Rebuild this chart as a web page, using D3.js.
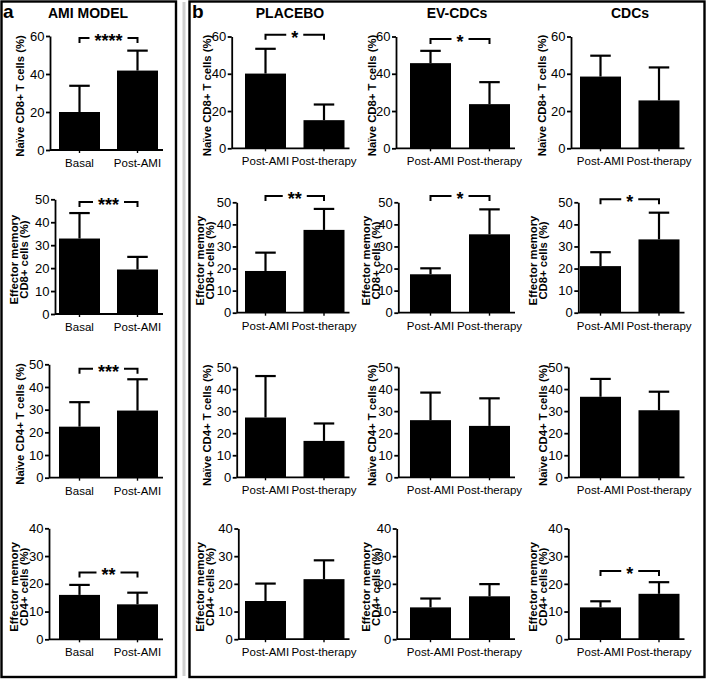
<!DOCTYPE html>
<html><head><meta charset="utf-8">
<script src="https://cdn.jsdelivr.net/npm/d3@7"></script>
<style>body{margin:0;background:#fff} svg{display:block} text{font-family:"Liberation Sans",Arial,Helvetica,sans-serif;fill:#000}</style>
</head><body><svg id="c" width="708" height="680"></svg>
<script>
// ---------- data ----------
const panelTitles = ["AMI MODEL", "PLACEBO", "EV-CDCs", "CDCs"];
const groupsA = ["Basal", "Post-AMI"];
const groupsB = ["Post-AMI", "Post-therapy"];
const yLabels = [["Naïve CD8+ T cells (%)"], ["Effector memory", "CD8+ cells (%)"], ["Naïve CD4+ T cells (%)"], ["Effector memory", "CD4+ cells (%)"]];
const yMax = [60, 50, 50, 40];
const yTicks = [[0, 20, 40, 60], [0, 10, 20, 30, 40, 50], [0, 10, 20, 30, 40, 50], [0, 10, 20, 30, 40]];

const amiMeans     = [[20.0, 41.8], [32.9, 19.4], [22.5, 29.6], [16.0, 12.6]];
const amiSD        = [[13.8, 10.5], [11.1, 5.5], [10.8, 13.8], [3.6, 4.2]];
const placeboMeans = [[40.1, 15.1], [18.9, 37.5], [27.1, 16.5], [13.8, 21.7]];
const placeboSD    = [[13.3, 8.4], [8.3, 9.5], [18.8, 7.9], [6.3, 6.8]];
const evMeans      = [[45.7, 23.7], [17.4, 35.5], [25.9, 23.3], [11.5, 15.5]];
const evSD         = [[6.6, 11.8], [2.7, 11.3], [12.5, 12.5], [3.2, 4.4]];
const cdcMeans     = [[38.5, 25.7], [21.1, 33.2], [36.5, 30.4], [11.5, 16.4]];
const cdcSD        = [[11.2, 17.7], [6.3, 12.1], [8.1, 8.4], [2.2, 4.2]];

// significance: [label, bracket level in axis units]
const amiSig     = [["****", 59], ["***", 48.8], ["***", 48], ["**", 24.1]];
const placeboSig = [["*", 61], ["**", 52.9], null, null];
const evSig      = [["*", 58.6], ["*", 52.9], null, null];
const cdcSig     = [null, ["*", 51.4], null, ["*", 24.6]];

// ---------- layout ----------
const panels = [
  {means: amiMeans, sd: amiSD, sig: amiSig, groups: groupsA},
  {means: placeboMeans, sd: placeboSD, sig: placeboSig, groups: groupsB},
  {means: evMeans, sd: evSD, sig: evSig, groups: groupsB},
  {means: cdcMeans, sd: cdcSD, sig: cdcSig, groups: groupsB}
];
const colLayout = [
  {barStart: 59,  step: 58,   axisX: [50, 55, 49, 49],            labelX: [20, 19, 20, 19],     titleX: 88},
  {barStart: 245, step: 58.5, axisX: [231.7, 236.7, 236.7, 238.3], labelX: [207, 205, 207, 205], titleX: 290},
  {barStart: 410, step: 59,   axisX: [396, 398.3, 398.3, 396.7],  labelX: [372, 371, 372, 371], titleX: 457},
  {barStart: 580, step: 58.5, axisX: [571, 578.3, 568.3, 568.3],  labelX: [542, 538, 543, 538], titleX: 630}
];
const rowA = [[36, 150], [199.3, 314], [364.3, 477.7], [528.3, 639.3]];
const rowB = [[36.5, 148.3], [202.3, 312.7], [367, 477.3], [528.5, 639.2]];
const barW = 41;

const svg = d3.select("#c");

// panel frames
svg.append("rect").attr("x", 1.5).attr("y", 1.5).attr("width", 174.5).attr("height", 675.5)
  .attr("fill", "none").attr("stroke", "#000").attr("stroke-width", 2.4);
svg.append("line").attr("x1", 184).attr("x2", 184).attr("y1", 2).attr("y2", 676)
  .attr("stroke", "#d0d0d0").attr("stroke-width", 3);
svg.append("rect").attr("x", 189.5).attr("y", 1.5).attr("width", 515).attr("height", 675.5)
  .attr("fill", "none").attr("stroke", "#000").attr("stroke-width", 2.4);

// panel letters
svg.append("text").attr("x", 3).attr("y", 17.5).attr("font-size", 19).attr("font-weight", "bold").text("a");
svg.append("text").attr("x", 192).attr("y", 17.5).attr("font-size", 19).attr("font-weight", "bold").text("b");

panels.forEach((p, c) => {
  const L = colLayout[c];
  svg.append("text").attr("x", L.titleX).attr("y", 17.5).attr("text-anchor", "middle")
    .attr("font-size", 14).attr("font-weight", "bold").text(panelTitles[c]);

  for (let r = 0; r < 4; r++) {
    const [yTopPx, y0Px] = (c === 0 ? rowA : rowB)[r];
    const ax = L.axisX[r];
    const y = d3.scaleLinear().domain([0, yMax[r]]).range([y0Px, yTopPx]);
    const x = d3.scaleBand().domain(p.groups)
      .range([L.barStart, L.barStart + L.step + barW])
      .paddingInner((L.step - barW) / L.step).paddingOuter(0);
    const g = svg.append("g");

    // bars
    const rows = p.groups.map((k, i) => ({k, m: p.means[r][i], s: p.sd[r][i]}));
    g.selectAll("rect.bar").data(rows).join("rect")
      .attr("x", d => x(d.k)).attr("width", x.bandwidth())
      .attr("y", d => y(d.m)).attr("height", d => y(0) - y(d.m)).attr("fill", "#000");
    // error bars (upper)
    g.selectAll("line.eb").data(rows).join("line")
      .attr("x1", d => x(d.k) + x.bandwidth() / 2).attr("x2", d => x(d.k) + x.bandwidth() / 2)
      .attr("y1", d => y(d.m)).attr("y2", d => y(d.m + d.s))
      .attr("stroke", "#000").attr("stroke-width", 2.2);
    g.selectAll("line.cap").data(rows).join("line")
      .attr("x1", d => x(d.k) + x.bandwidth() / 4).attr("x2", d => x(d.k) + x.bandwidth() * 3 / 4)
      .attr("y1", d => y(d.m + d.s)).attr("y2", d => y(d.m + d.s))
      .attr("stroke", "#000").attr("stroke-width", 2.2);

    // y axis
    const yAxis = d3.axisLeft(y).tickValues(yTicks[r]).tickSize(4).tickSizeOuter(0).tickPadding(1.5);
    const ya = g.append("g").attr("transform", `translate(${ax},0)`).call(yAxis);
    ya.select(".domain").attr("stroke-width", 1.8);
    ya.selectAll(".tick line").attr("stroke-width", 1.8);
    ya.selectAll("text").attr("font-size", 13).style("font-family", '"Liberation Sans",Arial,sans-serif');

    // x axis
    const xEnd = L.barStart + L.step + barW + 5;
    g.append("line").attr("x1", ax).attr("x2", xEnd).attr("y1", y0Px).attr("y2", y0Px)
      .attr("stroke", "#000").attr("stroke-width", 1.8);
    g.selectAll("line.xt").data(p.groups).join("line")
      .attr("x1", d => x(d) + x.bandwidth() / 2).attr("x2", d => x(d) + x.bandwidth() / 2)
      .attr("y1", y0Px).attr("y2", y0Px + 3).attr("stroke", "#000").attr("stroke-width", 1.4);
    g.selectAll("text.xl").data(p.groups).join("text")
      .attr("x", d => x(d) + x.bandwidth() / 2).attr("y", y0Px + 17)
      .attr("text-anchor", "middle").attr("font-size", 11.5).text(d => d);

    // y label
    const lines = yLabels[r];
    const cy = (y0Px + yTopPx) / 2 + 3;
    const lx = L.labelX[r];
    lines.forEach((t, i) => {
      const off = lines.length === 1 ? 0 : (i === 0 ? -5 : 5);
      g.append("text").attr("transform", `translate(${lx + off + 4},${cy}) rotate(-90)`)
        .attr("text-anchor", "middle").attr("font-size", 11.3).attr("font-weight", "bold").text(t);
    });

    // significance bracket
    const sg = p.sig[r];
    if (sg) {
      const by = y(sg[1]);
      const xa = x(p.groups[0]) + x.bandwidth() / 2, xb = x(p.groups[1]) + x.bandwidth() / 2;
      const mid = (xa + xb) / 2;
      const st = g.append("text").attr("x", mid).attr("y", by + 9).attr("text-anchor", "middle")
        .attr("font-size", 18).attr("font-weight", "bold").text(sg[0]);
      const tw = st.node().getComputedTextLength();
      const gap = tw / 2 + 5;
      const path = `M${xa},${by + 5}V${by}H${mid - gap}M${mid + gap},${by}H${xb}V${by + 5}`;
      g.append("path").attr("d", path).attr("fill", "none").attr("stroke", "#000").attr("stroke-width", 2);
    }
  }
});
</script></body></html>
